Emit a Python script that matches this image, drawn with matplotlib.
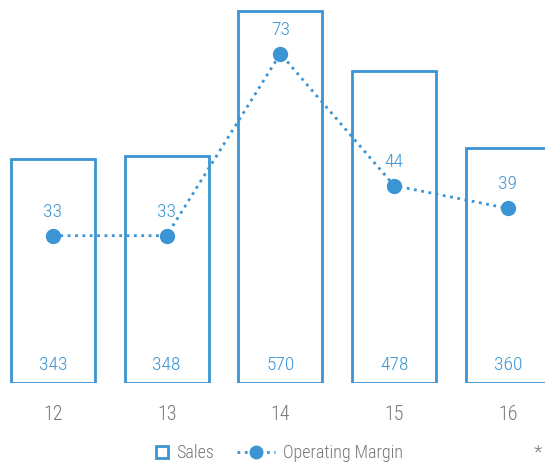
import matplotlib
matplotlib.use("Agg")
import matplotlib.pyplot as plt
from matplotlib.lines import Line2D

categories = ["12", "13", "14", "15", "16"]
sales = [343, 348, 570, 478, 360]
margin = [33, 33, 73, 44, 39]
legend_labels = ["Sales", "Operating Margin"]

plt.rcParams['font.family'] = ["Roboto Condensed", "DejaVu Sans"]
plt.rcParams['font.weight'] = 300

blue = "#3b94d3"
gray = "#777777"

W, H = 545, 464
fig = plt.figure(figsize=(W / 100, H / 100), dpi=100)
ax = fig.add_axes([0, 80/H, 1, 384/H])
x = list(range(len(categories)))
ax.bar(x, sales, width=0.74, facecolor="white", edgecolor=blue, linewidth=2, zorder=1)
ax.set_xlim(-0.466, 4.327)
ax.set_ylim(0, 570 * 384 / 372)
for xi, s in zip(x, sales):
    ax.annotate(str(s), (xi, 0), xytext=(0, 19), textcoords="offset pixels",
                ha="center", va="center", color=blue, fontsize=14)
ax.set_xticks(x)
ax.set_xticklabels(categories, color=gray, fontsize=14.5)
ax.tick_params(axis="x", length=0, pad=15)
ax.set_yticks([])
for sp in ax.spines.values():
    sp.set_visible(False)

ax2 = ax.twinx()
ax2.set_ylim(0.6, 0.6 + 384 / 4.548)
ax2.plot(x, margin, color=blue, linestyle=":", linewidth=2, marker="o", markersize=10, zorder=3)
for xi, m in zip(x, margin):
    ax2.annotate(str(m), (xi, m), xytext=(0, 25), textcoords="offset pixels",
                 ha="center", va="center", color=blue, fontsize=14)
ax2.set_yticks([])
for sp in ax2.spines.values():
    sp.set_visible(False)

# legend (manual layout)
ly = 11 / H
fig.add_artist(Line2D([162 / W], [ly], transform=fig.transFigure, linestyle="none", marker="s",
                      markersize=8.5, markerfacecolor="white", markeredgecolor=blue, markeredgewidth=2))
fig.text(176 / W, ly, legend_labels[0], ha="left", va="center", color=gray, fontsize=13)
fig.add_artist(Line2D([237 / W, 256 / W, 275 / W], [ly, ly, ly], transform=fig.transFigure,
                      linestyle=":", linewidth=2, color=blue, marker="o", markersize=9, markevery=[1]))
fig.text(283 / W, ly, legend_labels[1], ha="left", va="center", color=gray, fontsize=13)
fig.text(538 / W, ly, "*", ha="center", va="center", color=gray, fontsize=14)

fig.savefig("out.png", dpi=100)
